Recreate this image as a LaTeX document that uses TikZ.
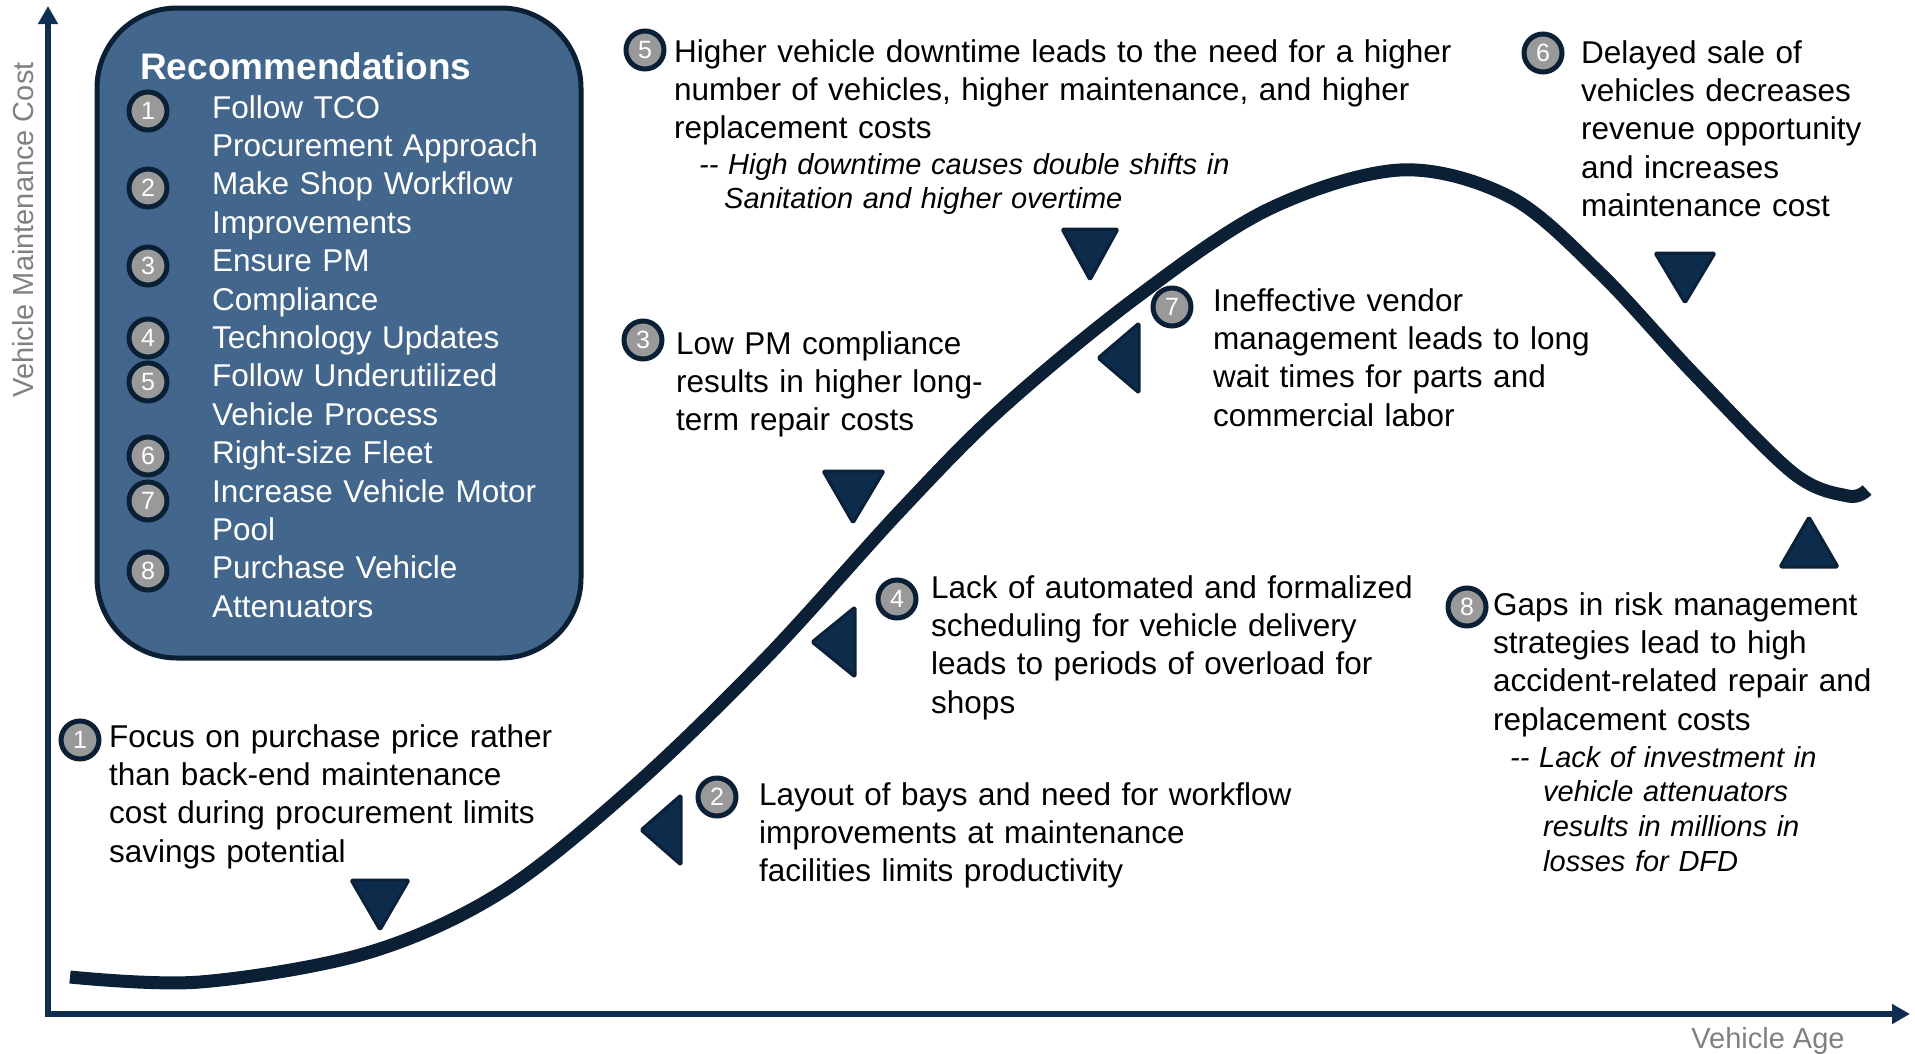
\documentclass[tikz,border=0pt]{standalone}
\usepackage{fontspec}
\setmainfont{Liberation Sans}
\usetikzlibrary{arrows.meta}

\definecolor{navy}{HTML}{0B1F35}
\definecolor{axisblue}{HTML}{0F2D50}
\definecolor{panelblue}{HTML}{43678C}
\definecolor{markfill}{HTML}{0D2C4C}
\definecolor{markedge}{HTML}{0A2139}
\definecolor{badgegray}{HTML}{999999}
\definecolor{labelgray}{HTML}{808080}

\tikzset{
  body/.style={font=\fontsize{31.5}{38.4}\selectfont, inner sep=0pt, anchor=base west, align=left},
  note/.style={font=\fontsize{29}{34.8}\selectfont\itshape, inner sep=0pt, anchor=base west, align=left},
  paneltext/.style={body, text=white, text width=345pt},
  badge/.style={circle, draw=navy, line width=5pt, fill=badgegray, minimum size=38pt,
                inner sep=0pt, text=white, font=\fontsize{25}{25}\selectfont},
  marker/.style={fill=markfill, draw=markedge, line width=3pt, line join=round, rounded corners=1.5pt},
  axislabel/.style={text=labelgray, font=\fontsize{29}{34}\selectfont, inner sep=0pt},
  axisline/.style={draw=axisblue, line width=6pt,
                   {Triangle[length=18pt,width=19pt]}-{Triangle[length=18pt,width=19pt]}},
}

\begin{document}
\begin{tikzpicture}[x=1pt, y=-1pt]
\useasboundingbox (0,0) rectangle (1915,1053);

% ---- recommendations panel ----
\draw[draw=navy, fill=panelblue, line width=5pt, rounded corners=80pt] (97,8) rectangle (581,658);
\node[anchor=base west, inner sep=0pt, text=white, font=\fontsize{37}{40}\selectfont\bfseries]
  (rectitle) at (140,79) {Recommendations};

\node[badge] (r1) at (148,111) {1};
\node[paneltext] (rt1) at (212,118) {Follow TCO\\Procurement Approach};
\node[badge] (r2) at (148,188) {2};
\node[paneltext] (rt2) at (212,194.8) {Make Shop Workflow\\Improvements};
\node[badge] (r3) at (148,266) {3};
\node[paneltext] (rt3) at (212,271.6) {Ensure PM\\Compliance};
\node[badge] (r4) at (148,338) {4};
\node[paneltext] (rt4) at (212,348.4) {Technology Updates};
\node[badge] (r5) at (148,382) {5};
\node[paneltext] (rt5) at (212,386.8) {Follow Underutilized\\Vehicle Process};
\node[badge] (r6) at (148,456) {6};
\node[paneltext] (rt6) at (212,463.6) {Right-size Fleet};
\node[badge] (r7) at (148,501) {7};
\node[paneltext] (rt7) at (212,502) {Increase Vehicle Motor\\Pool};
\node[badge] (r8) at (148,571) {8};
\node[paneltext] (rt8) at (212,578.8) {Purchase Vehicle\\Attenuators};

% ---- axes ----
\coordinate (ytop) at (48,6);
\coordinate (origin) at (48,1014);
\coordinate (xend) at (1910,1014);
\draw[axisline] (ytop) -- (origin) -- (xend);
\node[axislabel, rotate=90, anchor=base] (ylab) at (34,230) {Vehicle Maintenance Cost};
\node[axislabel, anchor=base] (xlab) at (1768,1048) {Vehicle Age};

% ---- cost curve over vehicle life ----
\draw[navy, line width=13pt] plot[smooth, tension=0.55] coordinates {
  (70,977) (200,982) (367,953) (500,893) (633,787) (767,657) (900,511)
  (1000,410) (1133,300) (1267,210) (1400,170) (1510,197) (1600,273)
  (1693,373) (1793,473) (1848,496) (1867,490)};

% ---- pointer triangles ----
\draw[marker] (351,880) -- (409,880) -- (380,930) -- cycle;
\draw[marker] (681,795) -- (681,865) -- (641,830) -- cycle;
\draw[marker] (823,471) -- (884,471) -- (853,523) -- cycle;
\draw[marker] (855,607) -- (855,677) -- (812,642) -- cycle;
\draw[marker] (1062,229) -- (1118,229) -- (1090,280) -- cycle;
\draw[marker] (1139,323) -- (1139,393) -- (1098,358) -- cycle;
\draw[marker] (1655,253) -- (1715,253) -- (1685,303) -- cycle;
\draw[marker] (1780,567) -- (1838,567) -- (1809,517) -- cycle;

% ---- findings ----
\node[badge] (c1) at (80,740) {1};
\node[body, text width=455pt] (f1) at (109,747)
  {Focus on purchase price rather\\than back-end maintenance\\cost during procurement limits\\savings potential};

\node[badge] (c2) at (717,797) {2};
\node[body, text width=545pt] (f2) at (759,805)
  {Layout of bays and need for workflow\\improvements at maintenance\\facilities limits productivity};

\node[badge] (c3) at (643,340) {3};
\node[body, text width=320pt] (f3) at (676,354)
  {Low PM compliance\\results in higher long-\\term repair costs};

\node[badge] (c4) at (897,599) {4};
\node[body, text width=495pt] (f4) at (931,598)
  {Lack of automated and formalized\\scheduling for vehicle delivery\\leads to periods of overload for\\shops};

\node[badge] (c5) at (645,50) {5};
\node[body, text width=800pt] (f5) at (674,62)
  {Higher vehicle downtime leads to the need for a higher\\number of vehicles, higher maintenance, and higher\\replacement costs};
\node[note, text width=540pt] (n5) at (699,174)
  {-{}- High downtime causes double shifts in\\\hspace*{25pt}Sanitation and higher overtime};

\node[badge] (c6) at (1543,53) {6};
\node[body, text width=300pt] (f6) at (1581,63)
  {Delayed sale of\\vehicles decreases\\revenue opportunity\\and increases\\maintenance cost};

\node[badge] (c7) at (1172,307) {7};
\node[body, text width=390pt] (f7) at (1213,311)
  {Ineffective vendor\\management leads to long\\wait times for parts and\\commercial labor};

\node[badge] (c8) at (1467,607) {8};
\node[body, text width=400pt] (f8) at (1493,615)
  {Gaps in risk management\\strategies lead to high\\accident-related repair and\\replacement costs};
\node[note, text width=330pt] (n8) at (1510,767)
  {-{}- Lack of investment in\\\hspace*{33pt}vehicle attenuators\\\hspace*{33pt}results in millions in\\\hspace*{33pt}losses for DFD};
\end{tikzpicture}
\end{document}
